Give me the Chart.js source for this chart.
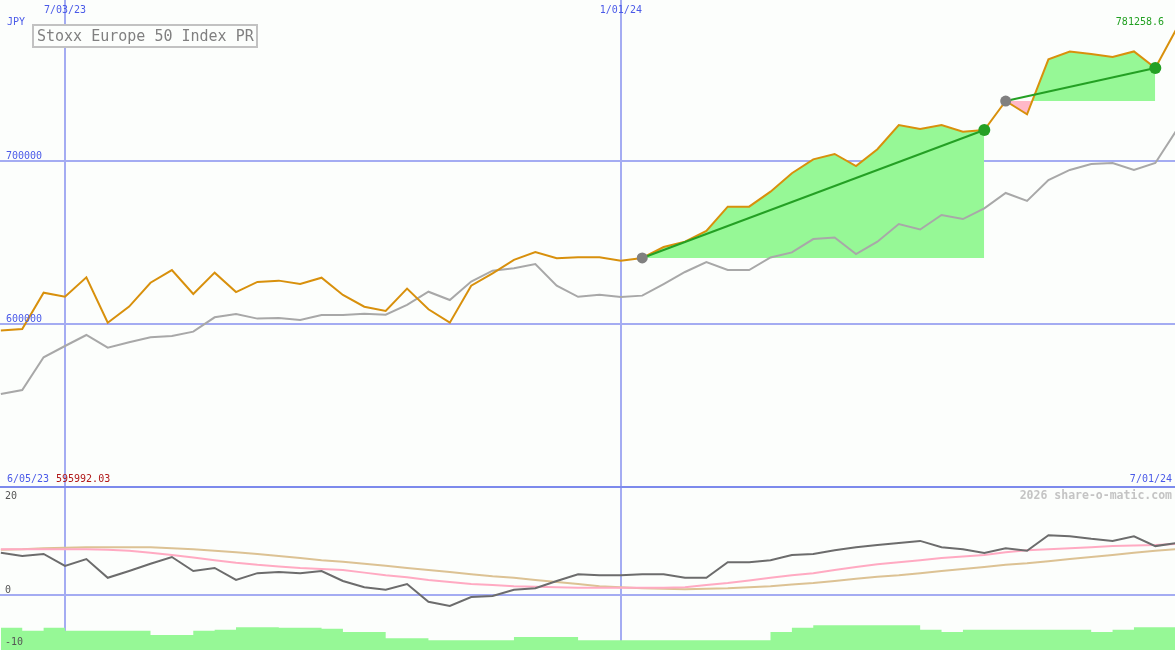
<!DOCTYPE html>
<html>
<head>
<meta charset="utf-8">
<script src="https://cdn.jsdelivr.net/npm/chart.js@4.4.1/dist/chart.umd.min.js"></script>
<style>
  html, body { margin: 0; padding: 0; background: #fcfefc; }
  canvas { display: block; }
</style>
</head>
<body>
<canvas id="chart" width="1175" height="650"></canvas>
<script>
// weekly closes, 6/12/23 .. 7/01/24 (index 0..55)
const price = [
  595992.03, 596900, 619200, 616750, 628650, 600800, 610700, 625300, 633100, 618400,
  631500, 619600, 625800, 626600, 624500, 628400, 617800, 610600, 608000, 621700,
  609000, 600800, 623500, 631100, 639300, 644200, 640300, 640900, 640900, 638800,
  640500, 647200, 650500, 657100, 672000, 672000, 681200, 692500, 701000, 704300,
  696900, 707200, 722100, 719600, 722100, 718000, 719000, 736800, 728600, 762400,
  767200, 765600, 763800, 767200, 757100, 781258.6
];
// comparison line (grey)
const compare = [
  557050, 559500, 579600, 586500, 593250, 585500, 588800, 591800, 592600, 595300,
  604100, 606100, 603300, 603700, 602500, 605500, 605500, 606300, 605700, 611700,
  619800, 614700, 626000, 632700, 634200, 636800, 623500, 616700, 618000, 616600,
  617400, 624500, 631900, 638000, 633100, 633100, 640800, 643900, 652100, 653100,
  642900, 650500, 661300, 658000, 666900, 664400, 670900, 680400, 675500, 688300,
  694500, 698200, 698800, 694500, 698800, 719000
];
// lower panel
const momentum = [
  8.1, 7.5, 7.9, 5.6, 6.9, 3.3, 4.6, 6.0, 7.3, 4.6,
  5.2, 2.9, 4.2, 4.4, 4.2, 4.6, 2.7, 1.5, 1.0, 2.1,
  -1.3, -2.1, -0.4, -0.2, 1.0, 1.3, 2.7, 4.0, 3.8, 3.8,
  4.0, 4.0, 3.3, 3.3, 6.3, 6.3, 6.7, 7.7, 7.9, 8.6,
  9.2, 9.6, 10.0, 10.4, 9.2, 8.8, 8.1, 9.0, 8.5, 11.5,
  11.3, 10.8, 10.4, 11.3, 9.4, 10.0
];
const maShort = [
  8.8, 8.8, 8.8, 8.8, 8.8, 8.7, 8.5, 8.1, 7.7, 7.2,
  6.7, 6.2, 5.8, 5.5, 5.2, 5.0, 4.8, 4.3, 3.8, 3.4,
  2.9, 2.5, 2.1, 1.9, 1.7, 1.6, 1.5, 1.4, 1.4, 1.4,
  1.4, 1.4, 1.5, 1.9, 2.3, 2.8, 3.3, 3.8, 4.2, 4.8,
  5.4, 5.9, 6.3, 6.7, 7.1, 7.4, 7.7, 8.2, 8.6, 8.8,
  9.0, 9.2, 9.4, 9.5, 9.6, 9.8
];
const maLong = [
  8.7, 8.8, 9.0, 9.1, 9.2, 9.2, 9.2, 9.2, 9.0, 8.8,
  8.5, 8.2, 7.9, 7.5, 7.1, 6.7, 6.4, 6.0, 5.6, 5.2,
  4.8, 4.4, 4.0, 3.6, 3.3, 2.9, 2.5, 2.1, 1.7, 1.5,
  1.3, 1.2, 1.1, 1.2, 1.3, 1.5, 1.7, 2.0, 2.3, 2.7,
  3.1, 3.5, 3.8, 4.2, 4.6, 5.0, 5.4, 5.8, 6.1, 6.5,
  6.9, 7.3, 7.7, 8.1, 8.5, 8.8
];
const volume = [
  -6.9, -6.3, -6.9, -6.3, -6.9, -6.9, -6.9, -6.9, -7.7, -7.7,
  -6.9, -6.7, -6.2, -6.2, -6.3, -6.3, -6.5, -7.1, -7.1, -8.3,
  -8.3, -8.7, -8.7, -8.7, -8.7, -8.1, -8.1, -8.1, -8.7, -8.7,
  -8.7, -8.7, -8.7, -8.7, -8.7, -8.7, -8.7, -7.1, -6.3, -5.8,
  -5.8, -5.8, -5.8, -5.8, -6.7, -7.1, -6.7, -6.7, -6.7, -6.7,
  -6.7, -6.7, -7.1, -6.7, -6.2, -6.2
];
// trades: entry / exit week index
const tradeEntry = [30, 47];
const tradeExit = [46, 54];

const mainTicks = [700000, 600000];
const lowerTicks = [20, 0, -10];
const dateTickIdx = [3, 29];
const dateTickLabels = ['7/03/23', '1/01/24'];
const startLabel = '6/05/23';
const endLabel = '7/01/24';
const title = 'Stoxx Europe 50 Index PR';

const GREEN_FILL = '#96f896';
const PINK_FILL = '#ffb8c8';
const GRID = '#a4acf2';
const BLUE_TXT = '#4a5ae8';
const MONO = '"DejaVu Sans Mono", monospace';

const pts = arr => arr.map((v, i) => ({ x: i, y: v }));

const datasets = [];
// trade fills (baseline + segment filled against it)
tradeEntry.forEach((e, k) => {
  const x = tradeExit[k];
  const base = [];
  const seg = [];
  for (let i = e; i <= x; i++) {
    base.push({ x: i, y: price[e] });
    seg.push({ x: i, y: price[i] });
  }
  const baseIdx = datasets.length;
  datasets.push({ data: base, borderWidth: 0, borderColor: 'transparent', pointRadius: 0, fill: false, order: 40 });
  datasets.push({
    data: seg, borderWidth: 0, borderColor: 'transparent', pointRadius: 0,
    fill: { target: baseIdx, above: GREEN_FILL, below: PINK_FILL }, order: 39
  });
});
// lower panel bars
datasets.push({
  data: pts(volume), yAxisID: 'y2', stepped: 'after', borderWidth: 0, pointRadius: 0,
  backgroundColor: GREEN_FILL, fill: 'start', order: 38
});
datasets.push({ data: pts(maLong), yAxisID: 'y2', borderColor: '#dcc294', borderWidth: 2, pointRadius: 0, order: 30 });
datasets.push({ data: pts(maShort), yAxisID: 'y2', borderColor: '#ffaac2', borderWidth: 2, pointRadius: 0, order: 29 });
datasets.push({ data: pts(momentum), yAxisID: 'y2', borderColor: '#6c6c6c', borderWidth: 2, pointRadius: 0, order: 28 });
// main lines
datasets.push({ data: pts(compare), borderColor: '#a8a8a8', borderWidth: 2, pointRadius: 0, order: 20 });
datasets.push({ data: pts(price), borderColor: '#d8900c', borderWidth: 2, pointRadius: 0, order: 15 });
// trade lines and markers
tradeEntry.forEach((e, k) => {
  const x = tradeExit[k];
  datasets.push({
    data: [{ x: e, y: price[e] }, { x: x, y: price[x] }],
    borderColor: '#24a024', borderWidth: 2, pointRadius: 0, order: 10
  });
  datasets.push({
    data: [{ x: e, y: price[e] }], showLine: false, pointRadius: 5.5,
    pointBackgroundColor: '#808080', pointBorderWidth: 0, order: 5
  });
  datasets.push({
    data: [{ x: x, y: price[x] }], showLine: false, pointRadius: 6,
    pointBackgroundColor: '#24a024', pointBorderWidth: 0, order: 4
  });
});

const overlay = {
  id: 'overlay',
  beforeDatasetsDraw(chart) {
    const { ctx, scales: { x, y, y2 } } = chart;
    ctx.save();
    ctx.lineWidth = 2;
    ctx.strokeStyle = GRID;
    mainTicks.forEach(v => {
      const py = Math.round(y.getPixelForValue(v));
      ctx.beginPath(); ctx.moveTo(0, py); ctx.lineTo(1175, py); ctx.stroke();
    });
    const z = Math.round(y2.getPixelForValue(0));
    ctx.beginPath(); ctx.moveTo(0, z); ctx.lineTo(1175, z); ctx.stroke();
    dateTickIdx.forEach(i => {
      const px = Math.round(x.getPixelForValue(i));
      ctx.beginPath(); ctx.moveTo(px, 0); ctx.lineTo(px, 650); ctx.stroke();
    });
    // panel separator
    const sep = Math.round(y.getPixelForValue(500000));
    ctx.strokeStyle = '#7c8aec';
    ctx.beginPath(); ctx.moveTo(0, sep); ctx.lineTo(1175, sep); ctx.stroke();
    ctx.restore();
  },
  afterDraw(chart) {
    const { ctx, scales: { x, y, y2 } } = chart;
    ctx.save();
    ctx.font = '10px ' + MONO;
    ctx.textBaseline = 'alphabetic';
    ctx.fillStyle = BLUE_TXT;
    ctx.textAlign = 'left';
    ctx.fillText('JPY', 7, 25);
    mainTicks.forEach(v => ctx.fillText(String(v), 6, y.getPixelForValue(v) - 2));
    ctx.textAlign = 'center';
    dateTickIdx.forEach((i, k) => ctx.fillText(dateTickLabels[k], x.getPixelForValue(i), 13));
    const sep = y.getPixelForValue(500000);
    ctx.textAlign = 'left';
    ctx.fillText(startLabel, 7, sep - 5);
    ctx.fillStyle = '#b01818';
    ctx.fillText(price[0].toFixed(2), 56, sep - 5);
    ctx.fillStyle = BLUE_TXT;
    ctx.textAlign = 'right';
    ctx.fillText(endLabel, 1172, sep - 5);
    ctx.fillStyle = '#22a022';
    ctx.fillText(String(price[price.length - 1]), 1164, 25);
    // lower ticks
    ctx.textAlign = 'left';
    ctx.fillStyle = '#555';
    lowerTicks.forEach(v => {
      const py = Math.max(y2.getPixelForValue(v) - 2, sep + 12.5);
      ctx.fillText(String(v), 5, py);
    });
    ctx.font = 'bold 11.5px ' + MONO;
    ctx.fillStyle = '#c4c4c4';
    ctx.textAlign = 'right';
    ctx.fillText('2026 share-o-matic.com', 1172, sep + 12.5);
    // title box
    ctx.fillStyle = '#fcfefc';
    ctx.fillRect(33, 25, 224, 22);
    ctx.lineWidth = 2;
    ctx.strokeStyle = '#c2c2c2';
    ctx.strokeRect(33, 25, 224, 22);
    ctx.font = '15px ' + MONO;
    ctx.fillStyle = '#808080';
    ctx.textAlign = 'left';
    ctx.textBaseline = 'middle';
    ctx.fillText(title, 37, 37);
    ctx.restore();
  }
};

new Chart(document.getElementById('chart').getContext('2d'), {
  type: 'line',
  data: { datasets: datasets },
  options: {
    responsive: false,
    animation: false,
    events: [],
    layout: { padding: 0, autoPadding: false },
    elements: { line: { tension: 0 } },
    plugins: { legend: { display: false }, tooltip: { enabled: false } },
    scales: {
      x: { type: 'linear', display: false, min: -0.04, max: 54.92 },
      y: { type: 'linear', display: false, min: 399990, max: 798774 },
      y2: { type: 'linear', display: false, min: -10.58, max: 114.42 }
    }
  },
  plugins: [overlay]
});
</script>
</body>
</html>
